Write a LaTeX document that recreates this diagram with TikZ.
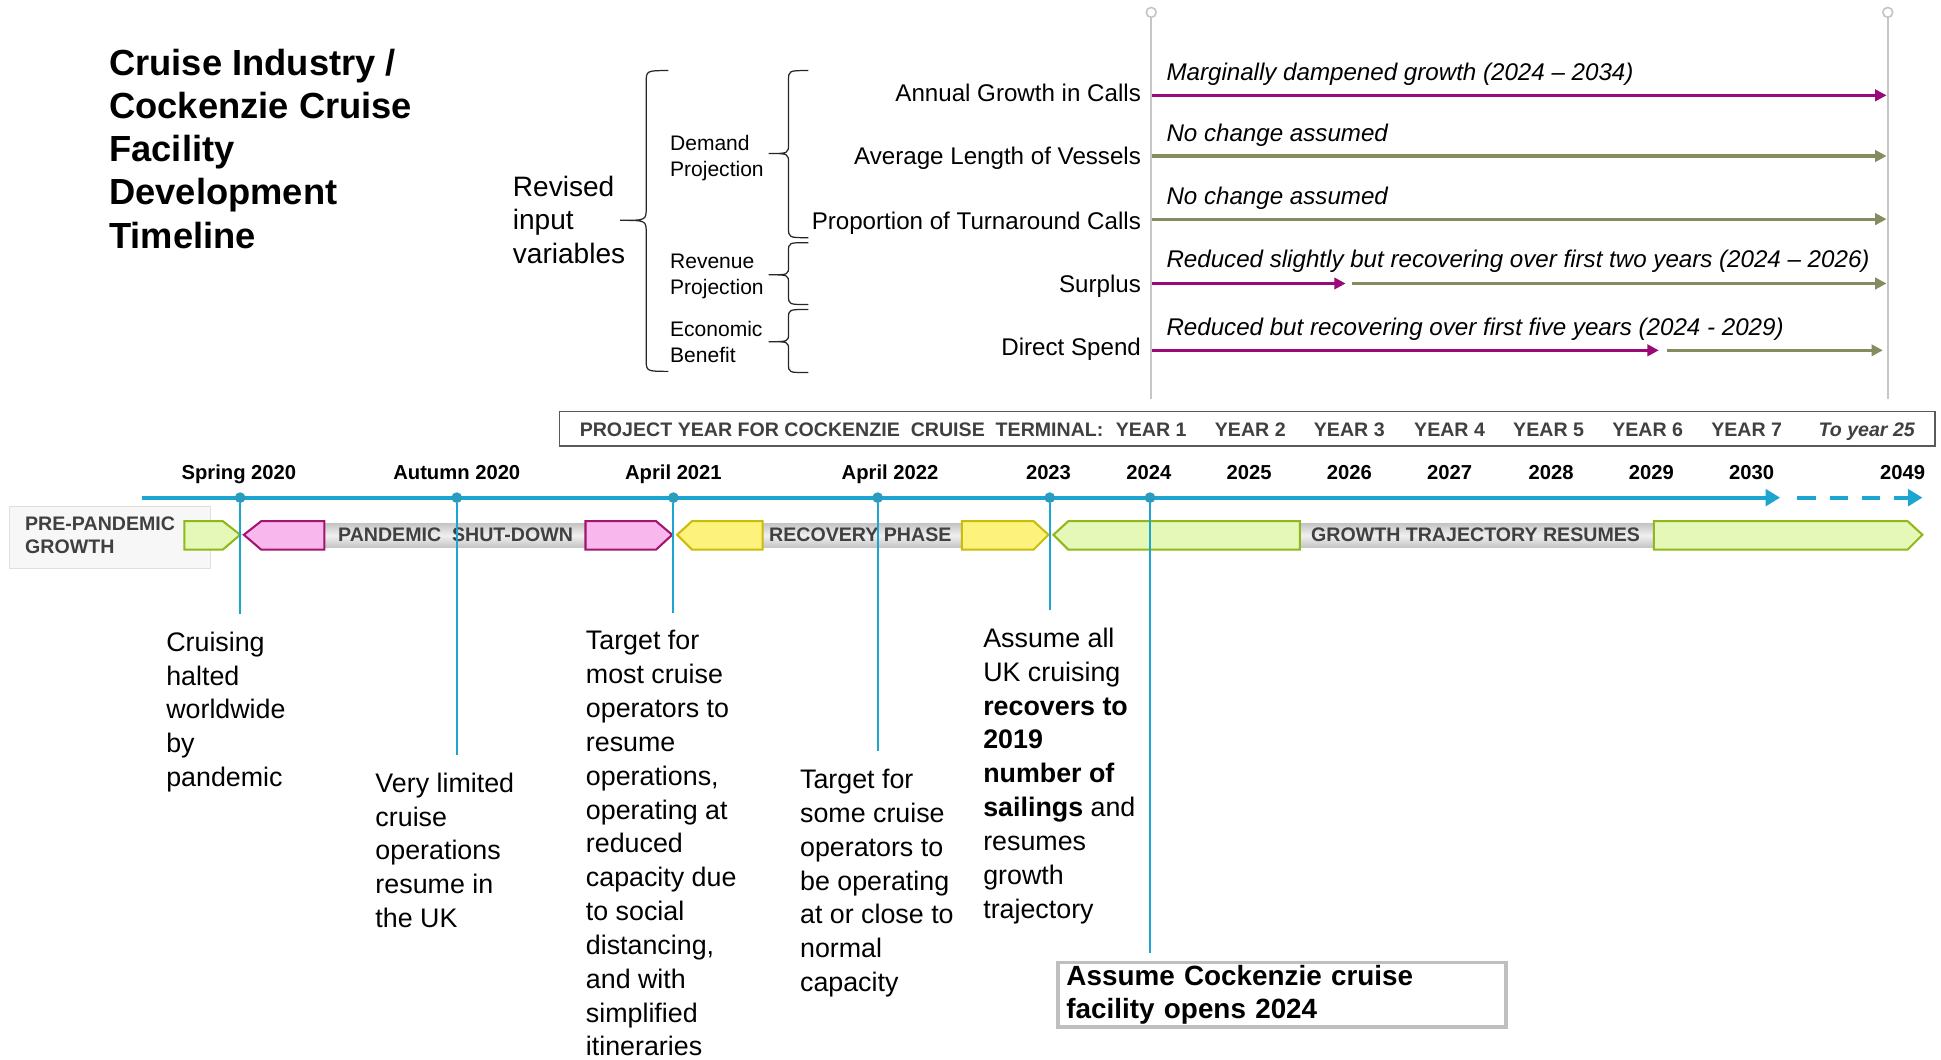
\documentclass[tikz,border=0pt]{standalone}
\usepackage{fontspec}
\setmainfont{Liberation Sans}
\usetikzlibrary{arrows.meta, positioning}

\definecolor{tlblue}{HTML}{1DA5D2}
\definecolor{tldot}{HTML}{2A9CBE}
\definecolor{magline}{HTML}{990A78}
\definecolor{oliveline}{HTML}{878C60}
\definecolor{pinkfill}{HTML}{F8B8EE}
\definecolor{pinkedge}{HTML}{A3146F}
\definecolor{yelfill}{HTML}{FDF27C}
\definecolor{yeledge}{HTML}{C9BC0A}
\definecolor{grnfill}{HTML}{E6F8B8}
\definecolor{grnedge}{HTML}{8FB81A}
\definecolor{labgray}{HTML}{404040}

\tikzset{
  title/.style={anchor=north west, align=left, inner sep=0pt, font=\fontsize{17.6}{21}\selectfont\bfseries},
  sublabel/.style={anchor=north west, align=left, inner sep=0pt, font=\fontsize{10.2}{12.6}\selectfont},
  varlabel/.style={anchor=base east, inner sep=0pt, font=\fontsize{11.7}{14}\selectfont},
  effect/.style={anchor=base west, inner sep=0pt, font=\fontsize{11.7}{14}\selectfont\itshape},
  bracket/.style={black!85, line width=0.6pt},
  magarrow/.style={magline, line width=1.5pt, -{Triangle[length=5.5pt,width=5.5pt]}},
  olvarrow/.style={oliveline, line width=1.5pt, -{Triangle[length=5.5pt,width=5.5pt]}},
  slider/.style={gray!45, line width=0.8pt},
  yearlab/.style={anchor=base, inner sep=0pt, font=\fontsize{9.8}{12}\selectfont\bfseries},
  projlab/.style={anchor=base, inner sep=0pt, text=labgray, font=\fontsize{9.5}{12}\selectfont\bfseries},
  phaselab/.style={anchor=base, inner sep=0pt, text=labgray, font=\fontsize{9.5}{12}\selectfont\bfseries},
  band/.style={top color=gray!45, bottom color=gray!45, middle color=gray!12},
  pinkbar/.style={fill=pinkfill, draw=pinkedge, line width=1pt},
  yelbar/.style={fill=yelfill, draw=yeledge, line width=1pt},
  grnbar/.style={fill=grnfill, draw=grnedge, line width=1pt},
  dot/.style={circle, fill=tldot, inner sep=0pt, minimum size=5.2pt},
  drop/.style={tlblue, line width=1pt, shorten >=8.4pt},
  note/.style={anchor=north west, align=left, inner sep=0pt, font=\fontsize{13}{16.4}\selectfont},
}

\begin{document}
\begin{tikzpicture}[x=0.6pt, y=-0.6pt]
\useasboundingbox (0,0) rectangle (1568,856);

% title and input variables
\node[title] (title) at (88,39) {Cruise Industry /\\Cockenzie Cruise\\Facility\\Development\\Timeline};
\node[anchor=north west, align=left, inner sep=0pt, font=\fontsize{13.6}{16.2}\selectfont] (revised) at (414,142) {Revised\\input\\variables};

\node[sublabel] (demand) at (541,109) {Demand\\Projection};
\node[sublabel] (revenue) at (541,205) {Revenue\\Projection};
\node[sublabel] (economic) at (541,259) {Economic\\Benefit};

% braces: ends, spine, tip, top, middle, bottom, curl
\foreach \xe/\xs/\xt/\ya/\ym/\yb/\r in {540/522/501/57/178/300/10, 653/637/621/57/124/192/8,
    653/637/621/196/222/246/7, 653/637/621/250/276/301/7}
  \draw[bracket] (\xe,\ya) .. controls (\xs,\ya) .. (\xs,\ya+\r) -- (\xs,\ym-\r)
    .. controls (\xs,\ym) .. (\xt,\ym) .. controls (\xs,\ym) .. (\xs,\ym+\r)
    -- (\xs,\yb-\r) .. controls (\xs,\yb) .. (\xe,\yb);

% slider lines
\draw[slider] (930,14) -- (930,322);
\draw[slider] (1525,14) -- (1525,322);
\draw[slider, fill=white] (930,10) circle[radius=2.4pt];
\draw[slider, fill=white] (1525,10) circle[radius=2.4pt];

\node[varlabel] (calls) at (922,82) {Annual Growth in Calls};
\node[varlabel] (vessels) at (922,133) {Average Length of Vessels};
\node[varlabel] (turnaround) at (922,185) {Proportion of Turnaround Calls};
\node[varlabel] (surplus) at (922,236) {Surplus};
\node[varlabel] (spend) at (922,287) {Direct Spend};

\node[effect] (callsfx) at (942,65) {Marginally dampened growth (2024 -- 2034)};
\node[effect] (vesselsfx) at (942,114) {No change assumed};
\node[effect] (turnaroundfx) at (942,165) {No change assumed};
\node[effect] (surplusfx) at (942,216) {Reduced slightly but recovering over first two years (2024 -- 2026)};
\node[effect] (spendfx) at (942,271) {Reduced but recovering over first five years (2024 - 2029)};

\coordinate (callsL) at (931,77);  \coordinate (callsR) at (1524,77);
\coordinate (vesselsL) at (931,126);  \coordinate (vesselsR) at (1524,126);
\coordinate (turnL) at (931,177);  \coordinate (turnR) at (1524,177);
\coordinate (surplusL) at (931,229);  \coordinate (surplusM) at (1087,229);
\coordinate (surplusN) at (1092,229);  \coordinate (surplusR) at (1524,229);
\coordinate (spendL) at (931,283);  \coordinate (spendM) at (1340,283);
\coordinate (spendN) at (1347,283);  \coordinate (spendR) at (1521,283);
\draw[magarrow] (callsL) -- (callsR);
\draw[olvarrow] (vesselsL) -- (vesselsR);
\draw[olvarrow] (turnL) -- (turnR);
\draw[magarrow] (surplusL) -- (surplusM);
\draw[olvarrow] (surplusN) -- (surplusR);
\draw[magarrow] (spendL) -- (spendM);
\draw[olvarrow] (spendN) -- (spendR);

% project years
\node[draw=gray!70!black, line width=0.8pt, minimum width=666.6pt, minimum height=16.8pt, inner sep=0pt] (projbox) at (1007.5,346.5) {};
\node[anchor=base west, inner sep=0pt, text=labgray, font=\fontsize{9.5}{12}\selectfont\bfseries] (projtext) at (468,352.7) {PROJECT YEAR FOR COCKENZIE\ \ CRUISE\ \ TERMINAL:};
\foreach \x/\n in {930/1, 1010/2, 1090/3, 1171/4, 1251/5, 1331/6, 1411/7}
  \node[projlab] (year\n) at (\x,352.7) {YEAR \n};
\node[projlab, font=\fontsize{9.5}{12}\selectfont\bfseries\itshape] (year25) at (1508,352.7) {To year 25};

% calendar
\foreach \x/\t in {193/Spring 2020, 369/Autumn 2020, 544/April 2021, 719/April 2022, 847/2023, 928/2024, 1009/2025, 1090/2026, 1171/2027, 1253/2028, 1334/2029, 1415/2030, 1537/2049}
  \node[yearlab] (cal\x) at (\x,387) {\t};

% phases
\node[fill=gray!6, draw=gray!25, minimum width=97.2pt, minimum height=30pt, inner sep=0pt] (preback) at (89,434) {};
\node[anchor=north west, align=left, inner sep=0pt, text=labgray, font=\fontsize{9.5}{11.4}\selectfont\bfseries] (pretext) at (20,417) {PRE-PANDEMIC\\GROWTH};
\fill[band] (262,423) rectangle (473,442);
\fill[band] (616,423) rectangle (777,442);
\fill[band] (1050,423) rectangle (1336,442);
\draw[grnbar] (149,421) -- (180,421) -- (194,432) -- (180,444) -- (149,444) -- cycle;
\draw[pinkbar] (197,432) -- (211,421) -- (262,421) -- (262,444) -- (211,444) -- cycle;
\draw[pinkbar] (473,421) -- (530,421) -- (543,432) -- (530,444) -- (473,444) -- cycle;
\draw[yelbar] (547,432) -- (559,421) -- (616,421) -- (616,444) -- (559,444) -- cycle;
\draw[yelbar] (777,421) -- (835,421) -- (847,432) -- (835,444) -- (777,444) -- cycle;
\draw[grnbar] (851,432) -- (863,421) -- (1050,421) -- (1050,444) -- (863,444) -- cycle;
\draw[grnbar] (1336,421) -- (1541,421) -- (1553,432) -- (1541,444) -- (1336,444) -- cycle;
\node[phaselab] (shutdown) at (368,437.7) {PANDEMIC\ \ SHUT-DOWN};
\node[phaselab] (recovery) at (695,437.7) {RECOVERY PHASE};
\node[phaselab] (resumes) at (1192,437.7) {GROWTH TRAJECTORY RESUMES};

% notes
\node[note] (cruising) at (134,510) {Cruising\\halted\\worldwide\\by\\pandemic};
\node[note] (limited) at (303,624) {Very limited\\cruise\\operations\\resume in\\the UK};
\node[note] (mostops) at (473,509) {Target for\\most cruise\\operators to\\resume\\operations,\\operating at\\reduced\\capacity due\\to social\\distancing,\\and with\\simplified\\itineraries};
\node[note] (someops) at (646,621) {Target for\\some cruise\\operators to\\be operating\\at or close to\\normal\\capacity};
\node[note] (recovers) at (794,507) {Assume all\\UK cruising\\{\bfseries recovers to}\\{\bfseries 2019}\\{\bfseries number of}\\{\bfseries sailings} and\\resumes\\growth\\trajectory};
\node[anchor=north west, draw=gray!50, line width=1.8pt, text width=208.8pt, align=left, inner xsep=4.2pt, inner ysep=0pt, minimum height=31.2pt, font=\fontsize{13.5}{16.2}\selectfont\bfseries] (facility) at (853,776) {Assume Cockenzie cruise\\facility opens 2024};

% timeline axis
\coordinate (axisL) at (115,402);  \coordinate (axisR) at (1438,402);
\coordinate (dashL) at (1452,402);  \coordinate (dashR) at (1553,402);
\draw[tlblue, line width=2pt, -{Triangle[length=7pt,width=8pt]}] (axisL) -- (axisR);
\draw[tlblue, line width=2pt, dash pattern=on 9pt off 6.6pt, -{Triangle[length=7pt,width=8pt]}] (dashL) -- (dashR);

\node[dot] (tSpring) at (194,402) {};
\node[dot] (tAutumn) at (369,402) {};
\node[dot] (tApr21) at (544,402) {};
\node[dot] (tApr22) at (709,402) {};
\node[dot] (t2023) at (848,402) {};
\node[dot] (t2024) at (929,402) {};

\draw[drop] (tSpring) -- (tSpring |- cruising.north);
\draw[drop] (tAutumn) -- (tAutumn |- limited.north);
\draw[drop] (tApr21) -- (tApr21 |- mostops.north);
\draw[drop] (tApr22) -- (tApr22 |- someops.north);
\draw[drop] (t2023) -- (t2023 |- recovers.north);
\draw[drop, shorten >=3.6pt] (t2024) -- (t2024 |- facility.north);
\end{tikzpicture}
\end{document}
